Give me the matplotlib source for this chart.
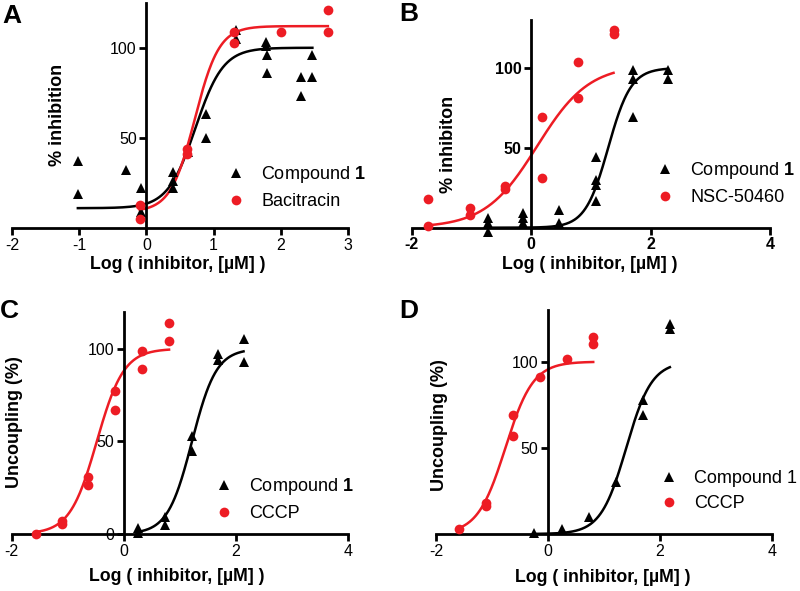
import numpy as np
import matplotlib
matplotlib.use('Agg')
import matplotlib.pyplot as plt

plt.rcParams['font.family'] = ['Liberation Sans', 'DejaVu Sans']
plt.rcParams['mathtext.fontset'] = 'custom'
plt.rcParams['mathtext.bf'] = 'Liberation Sans:bold'
plt.rcParams['mathtext.rm'] = 'Liberation Sans'
plt.rcParams['axes.unicode_minus'] = False

RED = '#ED1C24'

# ---- data ----
# A: % inhibition, Compound 1 vs Bacitracin
a_cmp_x = [-1.02, -1.02, -0.31, -0.08, -0.08, 0.40, 0.40, 0.40, 0.62, 0.88, 0.88,
           1.34, 1.34, 1.78, 1.78, 1.80, 1.80, 2.30, 2.30, 2.47, 2.47]
a_cmp_y = [37, 19, 32, 22, 9, 31, 26, 22, 42, 63, 50,
           110, 105, 103, 101, 96, 86, 84, 73, 96, 84]
a_bac_x = [-0.10, -0.10, 0.60, 0.60, 1.30, 1.30, 2.00, 2.70, 2.70]
a_bac_y = [13, 5, 44, 41, 108.5, 102.5, 108.5, 121, 108.5]

# B: % inhibiton, Compound 1 vs NSC-50460
b_cmp_x = [-0.73, -0.73, -0.73, -0.13, -0.13, -0.13, 0.47, 0.47,
           1.08, 1.08, 1.08, 1.08, 1.70, 1.70, 1.70, 2.29, 2.29]
b_cmp_y = [6, 3, -3, 9, 6, 3, 11, 3,
           44, 30, 27, 17, 99, 93, 69, 99, 93]
b_nsc_x = [-1.72, -1.72, -1.02, -1.02, -0.43, -0.43, 0.18, 0.18, 0.78, 0.78, 1.38, 1.38]
b_nsc_y = [18, 1, 12.5, 8, 26, 24, 69, 31, 104, 81, 124, 121.5]

# C: uncoupling, Compound 1 vs CCCP
c_cmp_x = [0.26, 0.26, 0.74, 0.74, 1.22, 1.22, 1.69, 1.69, 2.14, 2.14]
c_cmp_y = [3, 0.5, 9, 5, 53, 45, 97, 94, 105, 93]
c_cccp_x = [-1.57, -1.11, -1.11, -0.64, -0.64, -0.16, -0.16, 0.33, 0.33, 0.81, 0.81]
c_cccp_y = [0, 7, 5.6, 31, 26.5, 77, 67, 99, 89, 114, 104]

# D: uncoupling, Compound 1 vs CCCP
d_cmp_x = [-0.24, 0.26, 0.73, 1.22, 1.70, 1.70, 2.18, 2.18]
d_cmp_y = [0.5, 3, 10, 30, 78, 69, 122, 119]
d_cccp_x = [-1.59, -1.10, -1.10, -0.63, -0.63, -0.14, 0.34, 0.81, 0.81]
d_cccp_y = [3, 18, 16, 69, 57, 91, 101.5, 114.5, 110.5]

# fitted curves: bottom, top, logEC50, hill slope
a_cmp_fit = (11, 100, 0.73, 2.1)
a_bac_fit = (9, 112, 0.72, 2.4)
b_cmp_fit = (0, 100, 1.29, 2.27)
b_nsc_fit = (0, 102, 0.10, 1.0)
c_cmp_fit = (0, 100, 1.22, 2.0)
c_cccp_fit = (0, 100, -0.48, 1.8)
d_cmp_fit = (0, 100, 1.40, 1.9)
d_cccp_fit = (0, 100, -0.76, 1.75)


def hill(x, p):
    bottom, top, logec50, slope = p
    return bottom + (top - bottom) / (1 + 10 ** ((logec50 - x) * slope))


W, H = 800, 591
fig = plt.figure(figsize=(8, 5.91), dpi=100)


def make_ax(left, right, top, bottom):
    # pixel box -> figure fraction
    return fig.add_axes([left / W, 1 - bottom / H, (right - left) / W, (bottom - top) / H])


panels = [
    dict(box=(12, 348, 2.7, 228), xlim=(-2, 3), xticks=[-2, -1, 0, 1, 2, 3], ylim=(0, 125),
         yticks=[50, 100], ylabel='% inhibition', letter='A', lpos=(2, 4),
         sets=[(a_cmp_x, a_cmp_y, a_cmp_fit, 'k', '^', r'Compound $\mathbf{1}$'),
               (a_bac_x, a_bac_y, a_bac_fit, RED, 'o', 'Bacitracin')],
         leg=(236, 187), ylc=(0.160, 0.5), xlc=(0.494, -0.125), bold=False),
    dict(box=(411.7, 770, 20, 227.7), xlim=(-2, 4), xticks=[-2, 0, 2, 4], ylim=(0, 130),
         yticks=[50, 100], ylabel='% inhibiton', letter='B', lpos=(399, 2),
         sets=[(b_cmp_x, b_cmp_y, b_cmp_fit, 'k', '^', r'Compound $\mathbf{1}$'),
               (b_nsc_x, b_nsc_y, b_nsc_fit, RED, 'o', 'NSC-50460')],
         leg=(665, 183), ylc=(0.126, 0.40), xlc=(0.498, -0.137), bold=True),
    dict(box=(11.7, 347.7, 311.7, 534), xlim=(-2, 4), xticks=[-2, 0, 2, 4], ylim=(0, 120),
         yticks=[0, 50, 100], ylabel='Uncoupling (%)', letter='C', lpos=(0, 299),
         sets=[(c_cmp_x, c_cmp_y, c_cmp_fit, 'k', '^', r'Compound $\mathbf{1}$'),
               (c_cccp_x, c_cccp_y, c_cccp_fit, RED, 'o', 'CCCP')],
         leg=(224, 499), ylc=(0.033, 0.505), xlc=(0.492, -0.155), bold=False),
    dict(box=(436, 771.7, 310, 534), xlim=(-2, 4), xticks=[-2, 0, 2, 4], ylim=(0, 130),
         yticks=[50, 100], ylabel='Uncoupling (%)', letter='D', lpos=(399, 299),
         sets=[(d_cmp_x, d_cmp_y, d_cmp_fit, 'k', '^', 'Compound 1'),
               (d_cccp_x, d_cccp_y, d_cccp_fit, RED, 'o', 'CCCP')],
         leg=(669, 491), ylc=(0.035, 0.487), xlc=(0.497, -0.155), bold=False),
]

for p in panels:
    ax = make_ax(*p['box'])
    handles = []
    for xs, ys, fit, col, mk, lab in p['sets']:
        xx = np.linspace(min(xs), max(xs), 200)
        ax.plot(xx, hill(xx, fit), color=col, lw=1.8, zorder=2)
        h, = ax.plot(xs, ys, ls='none', marker=mk, ms=7, color=col,
                     markeredgewidth=0, label=lab, clip_on=False, zorder=3)
        handles.append(h)

    ax.set_xlim(*p['xlim'])
    ax.set_ylim(*p['ylim'])
    ax.set_xticks(p['xticks'])
    ax.set_yticks(p['yticks'])
    for s in ['top', 'right']:
        ax.spines[s].set_visible(False)
    ax.spines['left'].set_position(('data', 0))
    ax.spines['left'].set_linewidth(2.0)
    ax.spines['bottom'].set_linewidth(2.0)
    ax.tick_params(direction='out', length=5, width=2.0, labelsize=11.5, pad=2)
    ax.patch.set_alpha(0)

    wt = 'bold' if p['bold'] else 'normal'
    for t in ax.get_xticklabels() + ax.get_yticklabels():
        t.set_fontweight(wt)

    ax.set_ylabel(p['ylabel'], fontsize=13, fontweight='bold')
    ax.yaxis.set_label_coords(*p['ylc'])
    ax.set_xlabel('Log ( inhibitor, [µM] )', fontsize=12.8, fontweight='bold', va='top')
    ax.xaxis.set_label_coords(*p['xlc'])

    mx, my = p['leg']
    ax.legend(handles=handles, loc='center left',
              bbox_to_anchor=((mx - 9) / W, 1 - my / H), bbox_transform=fig.transFigure,
              frameon=False, fontsize=13, handlelength=1.0, handletextpad=0.9,
              borderpad=0, labelspacing=0.45, borderaxespad=0)

    lx, ly = p['lpos']
    fig.text(lx / W, 1 - ly / H, p['letter'], fontsize=19, fontweight='bold',
             ha='left', va='top')

fig.savefig('out.png', dpi=100)
